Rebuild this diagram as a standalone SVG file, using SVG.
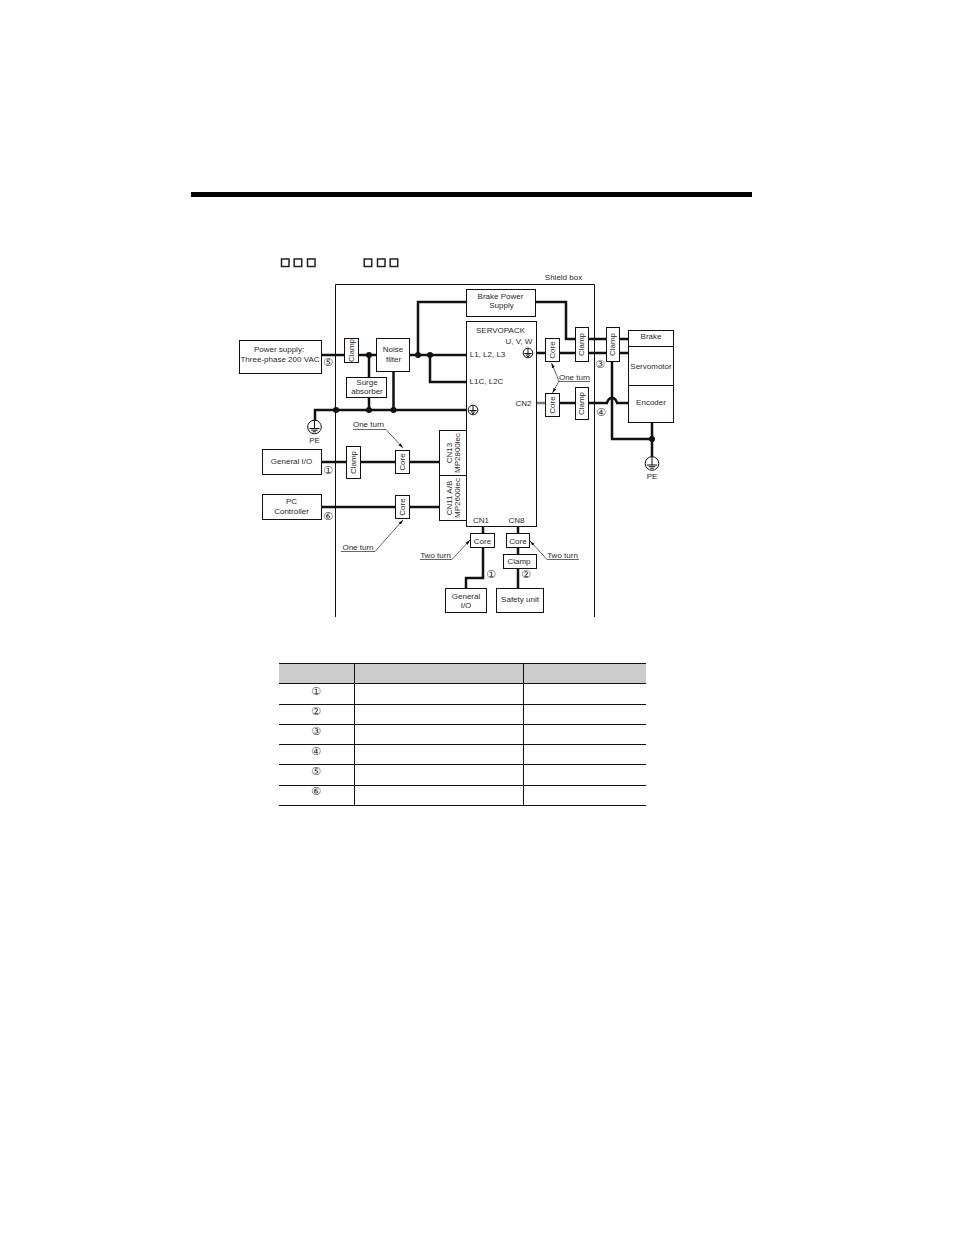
<svg xmlns="http://www.w3.org/2000/svg" width="954" height="1235" viewBox="0 0 954 1235">
<style>
text{font-family:"Liberation Sans",Arial,sans-serif;font-size:8px;fill:#2a2a2a;text-anchor:middle;opacity:.99}
.b{fill:#fff;stroke:#111;stroke-width:1}
.w{fill:none;stroke:#111;stroke-width:2.5}
.t{fill:none;stroke:#222;stroke-width:.7;marker-end:url(#ah)}
.u{fill:none;stroke:#666;stroke-width:1}
.n{font-family:"DejaVu Sans","Noto Sans CJK JP",sans-serif;font-size:11px;fill:#333}
.d{fill:#111}
.r{stroke:#111;stroke-width:1;fill:none}
.h{stroke:#111;stroke-width:1;fill:none}
</style>
<defs>
<marker id="ah" markerWidth="6" markerHeight="6" refX="5" refY="2.500" orient="auto" markerUnits="userSpaceOnUse"><path d="M0 1 5 2.500 0 4z" fill="#111"/></marker>
<g id="gnd"><circle r="6.800" fill="#fff" stroke="#111" stroke-width="1"/><path d="M0-6.800V1.500M-5 1.500H5M-3.300 3.200H3.300M-1.600 4.800H1.600" class="h"/></g>
<g id="gs"><circle r="4.800" fill="#fff" stroke="#111" stroke-width="1"/><path d="M0-4.800V.5M-3.600 .5H3.600M-2.300 2H2.300M-1 3.400H1" class="h"/></g>
</defs>
<rect x="191" y="192" width="561" height="5" fill="#000"/>
<g id="title-placeholders" fill="#fff" stroke="#222" stroke-width="1.500">
<rect x="281.500" y="259" width="7.500" height="7.500"/><rect x="294.200" y="259" width="7.500" height="7.500"/><rect x="307.500" y="259" width="7.500" height="7.500"/>
<rect x="364.200" y="259" width="7.500" height="7.500"/><rect x="377.500" y="259" width="7.500" height="7.500"/><rect x="390.200" y="259" width="7.500" height="7.500"/>
</g>
<g id="shield-box"><path d="M335.500 617V284.500H594.500V617" fill="none" stroke="#111"/><text x="563.500" y="280">Shield box</text></g>
<g id="connectors">
<path class="w" d="M321 355H344M358 355H376M409 355H466M418 355V302H466M430 355V382H466M369 355V377M369 397V410M393.500 371V410M315 422V410H466"/>
<path class="w" d="M536 302H566V339H575M588 339H606M619 339H628M536 353H545M559 353H575M588 353H606M619 353H628"/>
<path class="w" d="M559 403H575M588 403H607C608 399 610 398 612 398C614 398 616 399 617 403H628"/>
<path d="M536 403H545" fill="none" stroke="#777" stroke-width="2.500"/>
<path class="w" d="M612 361V439H652M652 422V457"/>
<path class="w" d="M321 462H347M360 462H396M409 462H440M321 507H396M409 507H440"/>
<path class="w" d="M483 526V533M483 547V578H466V589M518 526V533M518 547V554M518 568V588"/>
<circle class="d" cx="369" cy="355" r="3"/><circle class="d" cx="418" cy="355" r="3"/><circle class="d" cx="430" cy="355" r="3"/>
<circle class="d" cx="336" cy="410" r="3"/><circle class="d" cx="369" cy="410" r="3"/><circle class="d" cx="393.500" cy="410" r="3"/>
<circle class="d" cx="652" cy="439" r="3"/>
<path class="u" d="M559 381.500H590M353 429.500H386M341 551.500H375M420 559.500H452M547 559.500H579"/>
<path class="t" d="M559 381 551.500 363"/><path class="t" d="M559 381 552.500 393"/><path class="t" d="M386 429.500 403 448"/><path class="t" d="M375 551.500 403 520"/><path class="t" d="M452 559.500 470 540"/><path class="t" d="M547 559.500 530 541"/>
</g>
<g id="power-supply"><rect class="b" x="239.500" y="340.500" width="82" height="33"/><text x="279" y="352">Power supply:</text><text x="280" y="362">Three-phase 200 VAC</text></g>
<g id="clamp-1"><rect class="b" x="344.500" y="338.500" width="14" height="24"/><text transform="translate(354 350.500) rotate(-90)">Clamp</text></g>
<g id="noise-filter"><rect class="b" x="376.500" y="338.500" width="33" height="33"/><text x="393" y="352">Noise</text><text x="393.500" y="362">filter</text></g>
<g id="surge-absorber"><rect class="b" x="346.500" y="377.500" width="40" height="20"/><text x="367" y="384.500">Surge</text><text x="367" y="393.500">absorber</text></g>
<g id="brake-power"><rect class="b" x="466.500" y="289.500" width="69" height="27"/><text x="500.500" y="299">Brake Power</text><text x="501.500" y="308">Supply</text></g>
<g id="servopack"><rect class="b" x="466.500" y="321.500" width="70" height="205"/>
<text x="500.500" y="333">SERVOPACK</text><text x="519" y="344">U, V, W</text><text x="487.500" y="357">L1, L2, L3</text><text x="486.500" y="384">L1C, L2C</text><text x="523.500" y="406">CN2</text><text x="481" y="523">CN1</text><text x="516.500" y="523">CN8</text>
<use href="#gs" x="528" y="353"/><use href="#gs" x="473" y="410"/></g>
<g id="cn13"><rect class="b" x="439.500" y="430.500" width="27" height="45"/><text transform="translate(452 453) rotate(-90)">CN13</text><text transform="translate(459.500 453) rotate(-90)">MP2800iec</text></g>
<g id="cn11"><rect class="b" x="439.500" y="475.500" width="27" height="45"/><text transform="translate(452 498) rotate(-90)">CN11 A/B</text><text transform="translate(459.500 498) rotate(-90)">MP2600iec</text></g>
<g id="core-uvw"><rect class="b" x="545.500" y="338.500" width="14" height="23"/><text transform="translate(555 350) rotate(-90)">Core</text></g>
<g id="clamp-uvw"><rect class="b" x="575.500" y="327.500" width="13" height="34"/><text transform="translate(584 344.500) rotate(-90)">Clamp</text></g>
<g id="clamp-motor"><rect class="b" x="606.500" y="327.500" width="13" height="34"/><text transform="translate(615 344.500) rotate(-90)">Clamp</text></g>
<g id="core-cn2"><rect class="b" x="545.500" y="393.500" width="14" height="23"/><text transform="translate(555 405) rotate(-90)">Core</text></g>
<g id="clamp-cn2"><rect class="b" x="575.500" y="387.500" width="13" height="32"/><text transform="translate(584 403.500) rotate(-90)">Clamp</text></g>
<g id="motor"><rect class="b" x="628.500" y="330.500" width="45" height="92"/><path class="r" d="M628.500 346.500H673.500M628.500 385.500H673.500"/><text x="651" y="339">Brake</text><text x="651" y="369">Servomotor</text><text x="651" y="405">Encoder</text></g>
<g id="general-io-left"><rect class="b" x="262.500" y="449.500" width="59" height="25"/><text x="291.500" y="464">General I/O</text></g>
<g id="pc-controller"><rect class="b" x="262.500" y="494.500" width="59" height="25"/><text x="291.500" y="504">PC</text><text x="291.500" y="514">Controller</text></g>
<g id="clamp-io"><rect class="b" x="346.500" y="446.500" width="14" height="32"/><text transform="translate(356 462.500) rotate(-90)">Clamp</text></g>
<g id="core-io"><rect class="b" x="395.500" y="450.500" width="14" height="23"/><text transform="translate(405 462) rotate(-90)">Core</text></g>
<g id="core-pc"><rect class="b" x="395.500" y="495.500" width="14" height="23"/><text transform="translate(405 507) rotate(-90)">Core</text></g>
<g id="core-cn1"><rect class="b" x="470.500" y="533.500" width="24" height="14"/><text x="482.500" y="543.500">Core</text></g>
<g id="core-cn8"><rect class="b" x="506.500" y="533.500" width="23" height="14"/><text x="518" y="543.500">Core</text></g>
<g id="clamp-cn8"><rect class="b" x="503.500" y="554.500" width="33" height="14"/><text x="519" y="564">Clamp</text></g>
<g id="general-io-bottom"><rect class="b" x="445.500" y="588.500" width="41" height="24"/><text x="466" y="599">General</text><text x="466" y="608">I/O</text></g>
<g id="safety-unit"><rect class="b" x="496.500" y="588.500" width="47" height="24"/><text x="520" y="602">Safety unit</text></g>
<g id="pe-left"><use href="#gnd" x="314.500" y="427"/><text x="314.500" y="443">PE</text></g>
<g id="pe-right"><use href="#gnd" x="652" y="463.500"/><text x="652" y="479">PE</text></g>
<g id="labels">
<text x="574.500" y="380">One turn</text><text x="368.500" y="427">One turn</text><text x="358" y="550">One turn</text><text x="435.500" y="558">Two turn</text><text x="562.500" y="558">Two turn</text>
<text class="n" x="328" y="366">⑤</text><text class="n" x="328" y="473.500">①</text><text class="n" x="328" y="519.500">⑥</text><text class="n" x="491" y="578">①</text><text class="n" x="526" y="578">②</text><text class="n" x="600" y="368">③</text><text class="n" x="601" y="416">④</text>
</g>
<g id="table">
<rect x="279" y="663" width="367" height="20.500" fill="#ccc"/>
<path class="r" d="M279 663.500H646M279 683.500H646M279 704.500H646M279 724.500H646M279 744.500H646M279 764.500H646M279 785.500H646M279 805.500H646M354.500 663V805M523.500 663V805"/>
<text class="n" x="316" y="695">①</text><text class="n" x="316" y="715">②</text><text class="n" x="316" y="735">③</text><text class="n" x="316" y="755">④</text><text class="n" x="316" y="775">⑤</text><text class="n" x="316" y="795">⑥</text>
</g>
</svg>
